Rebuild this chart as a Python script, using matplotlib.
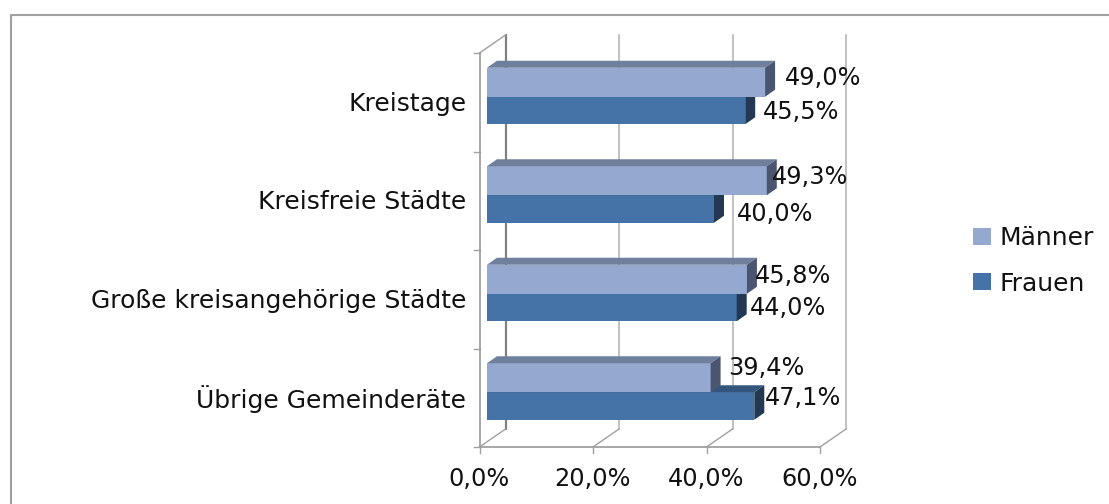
import matplotlib
matplotlib.use("Agg")
import matplotlib.pyplot as plt
from matplotlib.lines import Line2D
from matplotlib.patches import Patch, Polygon

# Data (bottom to top, like the chart)
categories = ["Übrige Gemeinderäte", "Große kreisangehörige Städte", "Kreisfreie Städte", "Kreistage"]
maenner = [39.4, 45.8, 49.3, 49.0]
frauen = [47.1, 44.0, 40.0, 45.5]
x_ticks = [0, 20, 40, 60]
x_labels = ["0,0%", "20,0%", "40,0%", "60,0%"]
m_labels = ["39,4%", "45,8%", "49,3%", "49,0%"]
f_labels = ["47,1%", "44,0%", "40,0%", "45,5%"]

W, H = 1109, 504
LEFT, RIGHT, TOP, BOTTOM = 479.5, 820.0, 53.0, 447.0
M_COL, M_TOP, M_SIDE = "#95A9D0", "#6F7F9C", "#4A5570"
F_COL, F_TOP, F_SIDE = "#4573A7", "#34567D", "#223853"
TXT = "#111111"
FS_VAL = 17.3
FS_CAT = 18

fig = plt.figure(figsize=(W / 100, H / 100), dpi=100)
ax = fig.add_axes([LEFT / W, 1 - BOTTOM / H, (RIGHT - LEFT) / W, (BOTTOM - TOP) / H])
ax.set_xlim(0, 60)
ax.set_ylim(0, 4)
ax.axis("off")

# pixels -> data units for the fake 3D offsets
px_x = 60 / (RIGHT - LEFT)
px_y = 4 / (BOTTOM - TOP)

# outer frame, only top and left are inside the picture
fig.add_artist(Line2D([11 / W, 11 / W, 1], [0, 1 - 15 / H, 1 - 15 / H], transform=fig.transFigure,
                      color="#A0A0A0", linewidth=1.5))

# back wall and floor
wall_dx, wall_dy = 26 * px_x, 18 * px_y
for t in x_ticks:
    c = "#808080" if t == 0 else "#B0B0B0"
    lw = 1.6 if t == 0 else 1.1
    ax.plot([t + wall_dx, t + wall_dx], [wall_dy, 4 + wall_dy], color=c, lw=lw, clip_on=False, zorder=1)
    ax.plot([t, t + wall_dx], [0, wall_dy], color="#A0A0A0", lw=1, clip_on=False, zorder=1)
    ax.plot([t, t], [0, -6 * px_y], color="#A0A0A0", lw=1, clip_on=False, zorder=1)
    ax.text(t, -32 * px_y, x_labels[x_ticks.index(t)], ha="center", va="center", fontsize=FS_VAL, color=TXT, clip_on=False)
ax.plot([0, wall_dx], [4, 4 + wall_dy], color="#A0A0A0", lw=1, clip_on=False, zorder=1)
ax.plot([0, 60], [0, 0], color="#A0A0A0", lw=1.3, clip_on=False, zorder=1)
ax.plot([0, 0], [0, 4], color="#A0A0A0", lw=1.3, clip_on=False, zorder=1)
for k in range(5):
    ax.plot([-6 * px_x, 0], [k, k], color="#A0A0A0", lw=1, clip_on=False, zorder=1)


def draw_bar(val, y0, h, col, top, side, z):
    # front face through barh, top and side faces shifted by the depth
    x0 = 7.5 * px_x
    dx, dy = 10 * px_x, 7 * px_y
    ax.barh(y0 + h / 2, val, height=h, left=x0, color=col, linewidth=0, zorder=z, clip_on=False)
    ax.add_patch(Polygon([(x0, y0 + h), (x0 + dx, y0 + h + dy), (x0 + val + dx, y0 + h + dy), (x0 + val, y0 + h)],
                         facecolor=top, edgecolor="none", zorder=z, clip_on=False))
    ax.add_patch(Polygon([(x0 + val, y0), (x0 + val + dx, y0 + dy), (x0 + val + dx, y0 + h + dy), (x0 + val, y0 + h)],
                         facecolor=side, edgecolor="none", zorder=z, clip_on=False))


bar_h_m, bar_h_f = 29 * px_y, 27.5 * px_y
for i in range(4):
    mid = i + 0.5 + 5.5 * px_y
    # Frauen first so that the Männer bar sits in front of its top face
    draw_bar(frauen[i], mid - bar_h_f, bar_h_f, F_COL, F_TOP, F_SIDE, 3)
    draw_bar(maenner[i], mid, bar_h_m, M_COL, M_TOP, M_SIDE, 4)
    ax.text(-13 * px_x, i + 0.5 - 1.5 * px_y, categories[i], ha="right", va="center", fontsize=FS_CAT, color=TXT, clip_on=False)

# value labels were placed by hand in the original, so pixel nudges per label (+y = down)
m_nudge = [(18, -10), (8, -4), (5, -4), (20, -5)]
f_nudge = [(11, -8), (13, 0), (23, 5), (18, 1)]
for i in range(4):
    x0 = 7.5 * px_x
    mid = i + 0.5 + 5.5 * px_y
    ax.text(x0 + maenner[i] + m_nudge[i][0] * px_x, mid + 14 * px_y - m_nudge[i][1] * px_y, m_labels[i],
            ha="left", va="center", fontsize=FS_VAL, color=TXT, zorder=6, clip_on=False)
    ax.text(x0 + frauen[i] + f_nudge[i][0] * px_x, mid - 14 * px_y - f_nudge[i][1] * px_y, f_labels[i],
            ha="left", va="center", fontsize=FS_VAL, color=TXT, zorder=6, clip_on=False)

handles = [Patch(facecolor=M_COL, label="Männer"), Patch(facecolor=F_COL, label="Frauen")]
fig.legend(handles=handles, loc="center left", bbox_to_anchor=(950.5 / W, 1 - 261 / H), frameon=False,
           fontsize=FS_CAT, handlelength=0.72, handleheight=0.68, labelspacing=0.85, handletextpad=0.32, labelcolor=TXT)

fig.savefig("out.png", dpi=100)
